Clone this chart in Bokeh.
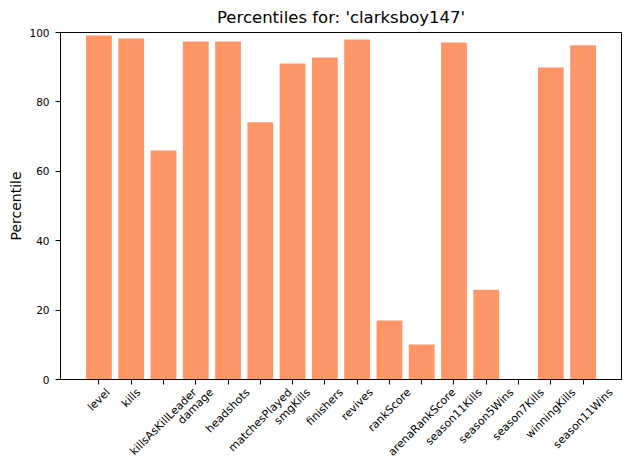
import math

from bokeh.embed import file_html
from bokeh.models import (CustomJSTickFormatter, FixedTicker, LinearAxis,
                          SingleIntervalTicker)
from bokeh.plotting import figure
from bokeh.resources import INLINE

# Percentile of each stat for the player
stats = [
    "level", "kills", "killsAsKillLeader", "damage", "headshots",
    "matchesPlayed", "smgKills", "finishers", "revives", "rankScore",
    "arenaRankScore", "season11Kills", "season5Wins", "season7Kills",
    "winningKills", "season11Wins",
]
percentiles = [
    99.1, 98.3, 66.0, 97.4, 97.4,
    74.1, 91.1, 92.8, 98.0, 17.0,
    10.1, 97.1, 25.9, 0.0,
    89.9, 96.3,
]
player = "clarksboy147"
y_ticks_step = 20

FONT = "DejaVu Sans"
BAR_COLOR = "#FF9668"
X_LABEL_PX = 11
Y_LABEL_PX = 10.5
BAR_WIDTH = 0.8

FRAME_W, FRAME_H = 561, 347
Y_MAX = 100

positions = list(range(len(stats)))
# 5% margin around the outer bar edges
lo = positions[0] - BAR_WIDTH / 2
hi = positions[-1] + BAR_WIDTH / 2
margin = 0.05 * (hi - lo)
x_start, x_end = lo - margin, hi + margin

p = figure(
    x_range=(x_start, x_end),
    y_range=(0, Y_MAX),
    frame_width=FRAME_W, frame_height=FRAME_H,
    min_border_left=60, min_border_right=9, min_border_top=32, min_border_bottom=91,
    output_backend="svg", toolbar_location=None,
    title=f"Percentiles for: '{player}'",
)

p.vbar(x=positions, top=percentiles, width=BAR_WIDTH,
       fill_color=BAR_COLOR, line_color=None)

# frame / title styling
p.outline_line_color = "black"
p.outline_line_width = 1
p.outline_line_alpha = 1
p.grid.visible = False
p.background_fill_color = "white"
p.border_fill_color = "white"

p.title.text_font = FONT
p.title.text_font_size = "16.5px"
p.title.text_font_style = "normal"
p.title.text_color = "black"
p.title.align = "center"
p.title.standoff = 11

# y axis
ya = p.yaxis[0]
ya.ticker = SingleIntervalTicker(interval=y_ticks_step)
ya.axis_label = "Percentile"
ya.axis_label_text_font = FONT
ya.axis_label_text_font_size = "14px"
ya.axis_label_text_font_style = "normal"
ya.axis_label_text_color = "black"
ya.axis_label_standoff = 2
ya.major_label_text_font = FONT
ya.major_label_text_font_size = f"{Y_LABEL_PX}px"
ya.major_label_text_color = "black"
ya.major_tick_out = 5
ya.major_tick_in = 0
ya.minor_tick_out = 0
ya.minor_tick_in = 0
ya.major_label_standoff = 6
ya.axis_line_color = "black"

# x axis: tick marks at the bar centres, no text
xa = p.xaxis[0]
xa.ticker = FixedTicker(ticks=positions)
xa.formatter = CustomJSTickFormatter(code="return ''")
xa.major_tick_out = 5
xa.major_tick_in = 0
xa.minor_tick_out = 0
xa.minor_tick_in = 0
xa.major_label_standoff = 0
xa.major_label_text_font_size = "1px"
xa.axis_line_color = "black"

# approximate DejaVu Sans advance widths (units per em = 2048)
ADV = dict(
    a=1255, b=1300, c=1126, d=1300, e=1260, f=721, g=1300, h=1298, i=569, j=569,
    k=1186, l=569, m=1995, n=1298, o=1253, p=1300, q=1300, r=842, s=1067, t=803,
    u=1298, v=1212, w=1675, x=1212, y=1212, z=1075,
    A=1401, K=1290, L=1141, P=1235, R=1423, S=1300, W=2025,
)


def text_width(s, size):
    return sum(ADV.get(ch, 1303) for ch in s) / 2048 * size


# rotated labels are anchored at their right end; shift each anchor so the
# rotated text box ends up centred under its bar
px_per_x = FRAME_W / (x_end - x_start)
anchor_pos = []
for i, s in zip(positions, stats):
    shift = text_width(s, X_LABEL_PX) / (2 * math.sqrt(2)) / px_per_x
    anchor_pos.append(round(i + shift, 4))

label_axis = LinearAxis(
    ticker=FixedTicker(ticks=anchor_pos),
    major_label_overrides={pos: s for pos, s in zip(anchor_pos, stats)},
    major_label_orientation=math.pi / 4,
    major_label_text_font=FONT,
    major_label_text_font_size=f"{X_LABEL_PX}px",
    major_label_text_color="black",
    major_label_standoff=6,
    major_tick_out=0, major_tick_in=0,
    minor_tick_out=0, minor_tick_in=0,
    axis_line_color=None,
)
p.add_layout(label_axis, "below")

open("out.html", "w").write(file_html(p, INLINE))
